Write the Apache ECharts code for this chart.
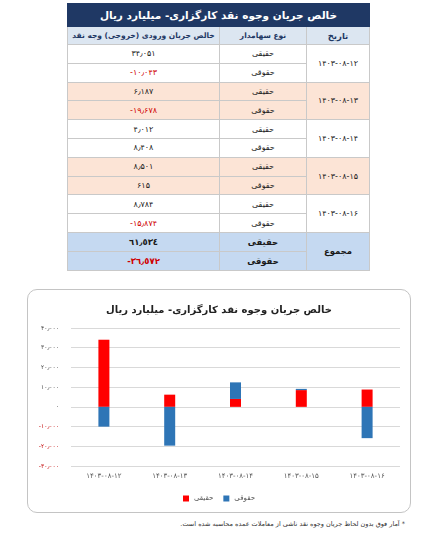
<!DOCTYPE html>
<html>
<head>
<meta charset="utf-8">
<script src="https://cdn.jsdelivr.net/npm/echarts@6/dist/echarts.min.js"></script>
<style>
  body { margin: 0; width: 430px; height: 544px; background: #fff; font-family: "DejaVu Sans", sans-serif; position: relative; overflow: hidden; }
  #tbl { position: absolute; left: 67px; top: 3px; width: 303px; border-collapse: collapse; direction: rtl; border: 1px solid #7f8fa9; }
  #tbl td { border: 1px solid #c9c9c9; text-align: center; padding: 0; height: 17.8px; font-size: 8px; color: #1a1a1a; white-space: nowrap; }
  #tbl .title td { background: #1f3864; color: #fff; font-weight: bold; font-size: 10.5px; height: 22px; border-color: #1f3864; }
  #tbl .head td { background: #dce6f1; color: #1f3864; font-weight: bold; font-size: 7.5px; height: 17px; }
  #tbl .peach td { background: #fce4d6; }
  #tbl .sum td { background: #c5d9f1; font-weight: bold; font-size: 8.5px; }
  #tbl .num { direction: ltr; }
  #tbl .neg { color: #d00000; }
  #box { position: absolute; left: 27px; top: 289px; width: 382px; height: 222px; border: 1px solid #c4c4c4; border-radius: 10px; }
  #chart { width: 382px; height: 222px; }
  #note { position: absolute; right: 25px; top: 520px; direction: rtl; font-size: 6.5px; color: #333; }
</style>
</head>
<body>
<table id="tbl"></table>
<div id="box"><div id="chart"></div></div>
<div id="note">* آمار فوق بدون لحاظ جریان وجوه نقد ناشی از معاملات عمده محاسبه شده است.</div>
<script>
// روزها (نمایش با ارقام فارسی)
var dates = ['۱۴۰۳-۰۸-۱۲', '۱۴۰۳-۰۸-۱۳', '۱۴۰۳-۰۸-۱۴', '۱۴۰۳-۰۸-۱۵', '۱۴۰۳-۰۸-۱۶'];
// خالص جریان وجوه نقد - میلیارد ریال
var realValues = [34051, 6187, 4012, 8501, 8784];
var legalValues = [-10043, -19678, 8408, 615, -15874];
// سطر مجموع جدول
var totals = [61534, -36572];
// محور عمودی
var yMin = -30000, yMax = 40000, yStep = 10000;

var seriesNames = ['حقیقی', 'حقوقی'];
var colors = ['#FF0000', '#2E75B6'];
var titleText = 'خالص جریان وجوه نقد کارگزاری- میلیارد ریال';

// تبدیل عدد به رقم فارسی با جداکننده هزارگان
function toFa(n, arabic) {
    var digits = arabic ? '٠١٢٣٤٥٦٧٨٩' : '۰۱۲۳۴۵۶۷۸۹';
    var s = Math.abs(n).toString().replace(/\B(?=(\d{3})+(?!\d))/g, '٫');
    s = s.replace(/\d/g, function (d) { return digits[+d]; });
    return (n < 0 ? '-' : '') + s;
}
// LRM تا ترتیب تاریخ چپ به راست بماند
function faDate(d) {
    return d.split('-').join('\u200E-\u200E');
}

// ساخت جدول
var html = '<tr class="title"><td colspan="3">' + titleText + '</td></tr>';
html += '<tr class="head"><td style="width:62px;font-size:8.5px">تاریخ</td><td style="width:86px">نوع سهامدار</td><td>خالص جریان ورودی (خروجی) وجه نقد</td></tr>';
dates.forEach(function (d, i) {
    var cls = (i % 2 == 1) ? ' class="peach"' : '';
    var r = realValues[i], l = legalValues[i];
    html += '<tr' + cls + '><td rowspan="2" class="num">' + faDate(d) + '</td><td>' + seriesNames[0] + '</td>' +
        '<td class="num' + (r < 0 ? ' neg' : '') + '">' + toFa(r) + '</td></tr>';
    html += '<tr' + cls + '><td>' + seriesNames[1] + '</td>' +
        '<td class="num' + (l < 0 ? ' neg' : '') + '">' + toFa(l) + '</td></tr>';
});
html += '<tr class="sum"><td rowspan="2">مجموع</td><td>' + seriesNames[0] + '</td><td class="num' + (totals[0] < 0 ? ' neg' : '') + '">' + toFa(totals[0], true) + '</td></tr>';
html += '<tr class="sum"><td>' + seriesNames[1] + '</td><td class="num' + (totals[1] < 0 ? ' neg' : '') + '">' + toFa(totals[1], true) + '</td></tr>';
document.getElementById('tbl').innerHTML = html;

// نمودار
var myChart = echarts.init(document.getElementById('chart'));
myChart.setOption({
    animation: false,
    textStyle: { fontFamily: 'DejaVu Sans' },
    title: {
        text: titleText,
        left: 'center',
        top: 10,
        textStyle: { fontSize: 10, fontWeight: 'bold', color: '#222' }
    },
    legend: {
        data: seriesNames,
        bottom: 5,
        icon: 'rect',
        itemWidth: 6,
        itemHeight: 6,
        itemGap: 10,
        textStyle: { fontSize: 7, color: '#555' }
    },
    grid: { left: 43, right: 10, top: 38, bottom: 46 },
    xAxis: {
        type: 'category',
        data: dates.map(faDate),
        axisLine: { show: false },
        axisTick: { show: false },
        axisLabel: { fontSize: 7, color: '#555', margin: 7 }
    },
    yAxis: {
        type: 'value',
        min: yMin,
        max: yMax,
        interval: yStep,
        axisLine: { show: false },
        axisTick: { show: false },
        splitLine: { lineStyle: { color: '#d9d9d9' } },
        axisLabel: {
            fontSize: 6,
            margin: 12,
            formatter: function (v) { return toFa(v); },
            color: function (v) { return v < 0 ? '#c00000' : '#444'; }
        }
    },
    series: [
        { name: seriesNames[0], type: 'bar', stack: 'flow', data: realValues, barWidth: 11, itemStyle: { color: colors[0] } },
        { name: seriesNames[1], type: 'bar', stack: 'flow', data: legalValues, barWidth: 11, itemStyle: { color: colors[1] } }
    ]
});
</script>
</body>
</html>
